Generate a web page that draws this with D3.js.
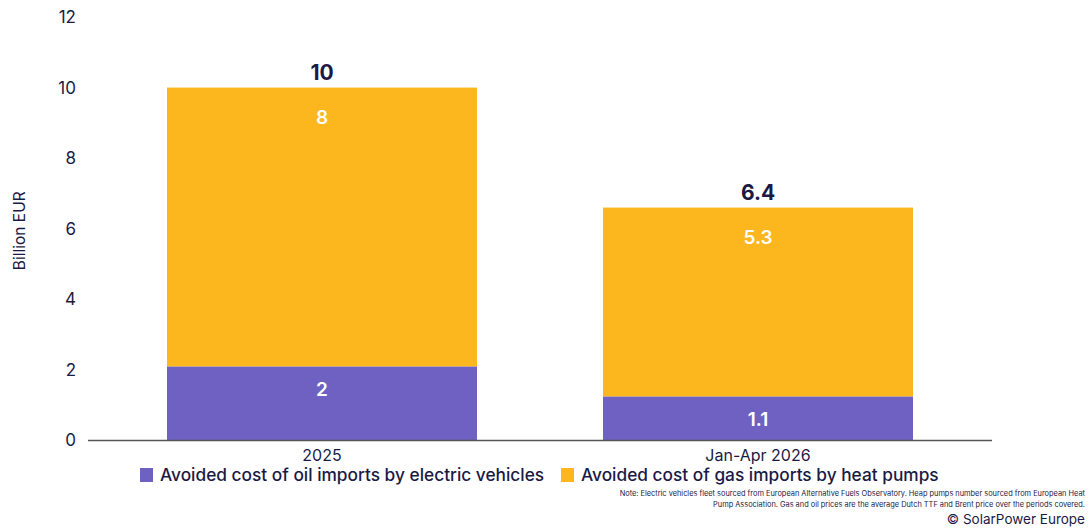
<!DOCTYPE html>
<html>
<head>
<meta charset="utf-8">
<script src="https://cdn.jsdelivr.net/npm/d3@7"></script>
<style>
  body { margin: 0; background: #fff; }
  svg { font-family: Inter, 'Noto Sans', sans-serif; }
</style>
</head>
<body>
<div id="chart"></div>
<script>
const categories = ['2025', 'Jan-Apr 2026'];
const oilValues = [2.1, 1.25];
const gasValues = [7.9, 5.35];
const oilLabels = ['2', '1.1'];
const gasLabels = ['8', '5.3'];
const totalLabels = ['10', '6.4'];
const yTicks = [0, 2, 4, 6, 8, 10, 12];
const seriesNames = [
  'Avoided cost of oil imports by electric vehicles',
  'Avoided cost of gas imports by heat pumps',
];
const colors = ['#6f61c2', '#fdb71e'];
const textColor = '#1b1a45';

const width = 1090;
const height = 528;

const svg = d3
  .select('#chart')
  .append('svg')
  .attr('width', width)
  .attr('height', height);

const x = d3
  .scaleBand()
  .domain(categories)
  .range([104, 976])
  .paddingInner(0.289)
  .paddingOuter(0.1445);

const y = d3.scaleLinear().domain([0, 12]).range([440.5, 17]);

// y ticks (no axis line)
svg
  .append('g')
  .selectAll('text')
  .data(yTicks)
  .enter()
  .append('text')
  .attr('x', 76)
  .attr('y', (d) => y(d))
  .attr('dy', '0.35em')
  .attr('text-anchor', 'end')
  .attr('font-size', 17)
  .attr('fill', textColor)
  .text((d) => d);

svg
  .append('text')
  .attr('transform', `translate(25, ${y(6) + 2}) rotate(-90)`)
  .attr('text-anchor', 'middle')
  .attr('font-size', 15.5)
  .attr('fill', textColor)
  .text('Billion EUR');

// stacked bars
const stacked = categories.map((c, i) => ({
  cat: c,
  oil: oilValues[i],
  gas: gasValues[i],
}));

const series = d3.stack().keys(['oil', 'gas'])(stacked);

svg
  .append('g')
  .selectAll('g')
  .data(series)
  .enter()
  .append('g')
  .attr('fill', (d, i) => colors[i])
  .selectAll('rect')
  .data((d) => d)
  .enter()
  .append('rect')
  .attr('x', (d) => x(d.data.cat))
  .attr('width', x.bandwidth())
  .attr('y', (d) => y(d[1]))
  .attr('height', (d) => y(d[0]) - y(d[1]));

// segment labels, placed a fixed distance below each segment's top
const segLabels = [oilLabels, gasLabels];
const segOffset = [23, 30];
series.forEach((s, k) => {
  svg
    .append('g')
    .selectAll('text')
    .data(s)
    .enter()
    .append('text')
    .attr('x', (d) => x(d.data.cat) + x.bandwidth() / 2)
    .attr('y', (d) => y(d[1]) + segOffset[k])
    .attr('dy', '0.35em')
    .attr('text-anchor', 'middle')
    .attr('font-size', 19)
    .attr('font-weight', 600)
    .attr('fill', '#fff')
    .text((d, i) => segLabels[k][i]);
});

// totals
svg
  .append('g')
  .selectAll('text')
  .data(stacked)
  .enter()
  .append('text')
  .attr('x', (d) => x(d.cat) + x.bandwidth() / 2)
  .attr('y', (d) => y(d.oil + d.gas) - 8)
  .attr('text-anchor', 'middle')
  .attr('font-size', 21)
  .attr('font-weight', 700)
  .attr('fill', textColor)
  .text((d, i) => totalLabels[i]);

// baseline
svg
  .append('line')
  .attr('x1', 88)
  .attr('x2', 992)
  .attr('y1', y(0))
  .attr('y2', y(0))
  .attr('stroke', '#555')
  .attr('stroke-width', 1.5);

// category labels
svg
  .append('g')
  .selectAll('text')
  .data(categories)
  .enter()
  .append('text')
  .attr('x', (d) => x(d) + x.bandwidth() / 2)
  .attr('y', 461)
  .attr('text-anchor', 'middle')
  .attr('font-size', 16)
  .attr('fill', textColor)
  .text((d) => d);

// legend
const legendX = [140, 561];
const legend = svg
  .append('g')
  .selectAll('g')
  .data(seriesNames)
  .enter()
  .append('g')
  .attr('transform', (d, i) => `translate(${legendX[i]}, 475)`);

legend
  .append('rect')
  .attr('x', 0)
  .attr('y', -7)
  .attr('width', 13)
  .attr('height', 14)
  .attr('fill', (d, i) => colors[i]);

legend
  .append('text')
  .attr('x', 20)
  .attr('y', 0)
  .attr('dy', '0.35em')
  .attr('font-size', 17.3)
  .attr('font-weight', 500)
  .attr('fill', textColor)
  .text((d) => d);

// note and credit
const noteLines = [
  'Note: Electric vehicles fleet sourced from European Alternative Fuels Observatory. Heap pumps number sourced from European Heat',
  'Pump Association. Gas and oil prices are the average Dutch TTF and Brent price over the periods covered.',
];

svg
  .append('g')
  .selectAll('text')
  .data(noteLines)
  .enter()
  .append('text')
  .attr('x', 1085)
  .attr('y', (d, i) => 496 + i * 11)
  .attr('text-anchor', 'end')
  .attr('font-size', 7.4)
  .attr('fill', textColor)
  .text((d) => d);

svg
  .append('text')
  .attr('x', 1085)
  .attr('y', 524)
  .attr('text-anchor', 'end')
  .attr('font-size', 13.5)
  .attr('fill', textColor)
  .text('© SolarPower Europe');
</script>
</body>
</html>
